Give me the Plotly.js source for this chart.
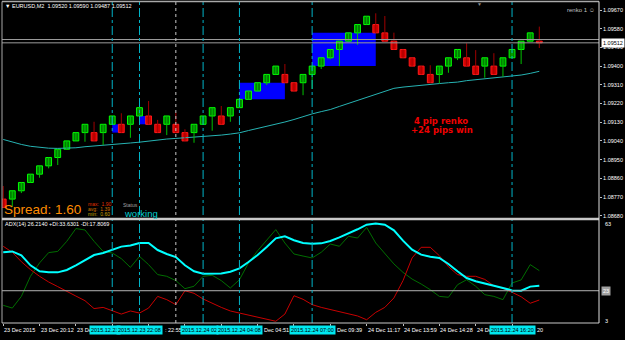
<!DOCTYPE html>
<html>
<head>
<meta charset="utf-8">
<script src="https://cdn.plot.ly/plotly-3.0.1.min.js"></script>
<style>
html,body{margin:0;padding:0;background:#000;}
#chart{width:625px;height:340px;}
</style>
</head>
<body>
<div id="chart"></div>
<script>
// ---------- DATA ----------
const opens = [1.0876,1.0876,1.0880,1.0884,1.0888,1.0892,1.0896,1.0900,1.0904,1.0908,
  1.0908,1.0908,1.0912,1.0912,1.0912,1.0916,1.0916,1.0912,1.0912,1.0912,
  1.0908,1.0908,1.0912,1.0916,1.0916,1.0916,1.0920,1.0924,1.0928,1.0932,
  1.0936,1.0936,1.0932,1.0932,1.0936,1.0940,1.0944,1.0948,1.0952,1.0956,
  1.0960,1.0960,1.0956,1.0952,1.0948,1.0944,1.0940,1.0936,1.0936,1.0940,
  1.0944,1.0944,1.0940,1.0940,1.0940,1.0940,1.0944,1.0948,1.0952,1.09520];
const closes = [1.0872,1.0880,1.0884,1.0888,1.0892,1.0896,1.0900,1.0904,1.0908,1.0912,
  1.0904,1.0912,1.0916,1.0908,1.0916,1.0920,1.0912,1.0908,1.0916,1.0908,
  1.0904,1.0912,1.0916,1.0920,1.0912,1.0920,1.0924,1.0928,1.0932,1.0936,
  1.0940,1.0932,1.0928,1.0936,1.0940,1.0944,1.0948,1.0952,1.0956,1.0960,
  1.0964,1.0956,1.0952,1.0948,1.0944,1.0940,1.0936,1.0932,1.0940,1.0944,
  1.0948,1.0940,1.0936,1.0944,1.0936,1.0944,1.0948,1.0952,1.0956,1.09512];
const highs = [1.08823,1.0880,1.0884,1.0888,1.0892,1.0896,1.0900,1.0904,1.0908,1.0912,
  1.09132,1.0912,1.0916,1.09173,1.0916,1.0920,1.09232,1.09141,1.0916,1.09176,
  1.09096,1.0912,1.0916,1.0920,1.09208,1.0920,1.0924,1.0928,1.0932,1.0936,
  1.0940,1.0941,1.0932,1.0936,1.0940,1.0944,1.0948,1.0952,1.0956,1.0960,
  1.0964,1.09654,1.09641,1.09561,1.0948,1.0944,1.0940,1.09404,1.0940,1.0944,
  1.0948,1.0951,1.09477,1.0944,1.09462,1.0944,1.0948,1.0952,1.0956,1.09590];
const lows = [1.0872,1.08723,1.08789,1.0884,1.08863,1.08908,1.08924,1.0900,1.0904,1.09036,
  1.0904,1.0902,1.0912,1.0908,1.09055,1.09141,1.0912,1.0908,1.09068,1.0908,
  1.0904,1.09031,1.0912,1.09089,1.0912,1.09132,1.0920,1.0924,1.0928,1.09309,
  1.0936,1.0932,1.0928,1.0926,1.0929,1.09386,1.09433,1.0940,1.0952,1.09502,
  1.0960,1.0956,1.0952,1.0948,1.0944,1.0940,1.0936,1.0932,1.09317,1.09368,
  1.09429,1.0940,1.0936,1.09344,1.0936,1.09349,1.0944,1.0941,1.0952,1.09487];
const maValues = [1.09047,1.09034,1.09023,1.09014,1.09009,1.09005,1.09004,1.09004,1.09007,1.09012,
  1.09015,1.09019,1.09022,1.09026,1.09030,1.09034,1.09040,1.09044,1.09049,1.09052,
  1.09055,1.09057,1.09060,1.09064,1.09068,1.09073,1.09079,1.09090,1.09100,1.09109,
  1.09119,1.09131,1.09143,1.09157,1.09170,1.09181,1.09191,1.09206,1.09220,1.09234,
  1.09249,1.09264,1.09278,1.09293,1.09299,1.09304,1.09309,1.09313,1.09316,1.09320,
  1.09323,1.09330,1.09334,1.09338,1.09343,1.09347,1.09350,1.09357,1.09365,1.09375];
const adx = [44.2,44.7,42.4,36.6,33.1,32.5,32.5,33.9,36.6,39.5,
  42.6,43.8,45.5,47.5,48.2,49.6,49.6,45.5,43.2,41.4,
  36.6,33.1,31.7,31.7,31.9,32.9,34.8,38.5,42.6,47.3,
  52.3,53.5,51.2,49.6,49.2,49.4,50.8,52.9,55.2,57.6,
  60.3,60.9,60.3,57.0,51.0,45.7,42.8,41.6,40.9,37.4,
  33.1,29.2,27.3,26.1,24.6,23.4,22.0,21.8,24.2,24.7];
const plusDI = [13.3,11.7,18.5,30.2,38.0,44.0,44.7,50.6,58.0,57.2,
  50.6,44.7,43.8,40.5,35.4,41.8,37.0,31.2,30.2,27.7,
  23.0,24.4,30.2,30.8,27.7,23.4,28.2,38.0,45.1,51.5,
  57.4,49.6,43.2,42.0,40.9,44.2,49.0,47.7,53.5,52.5,
  58.7,49.6,43.2,37.4,32.5,28.6,25.7,22.4,18.5,18.0,
  25.3,28.2,24.4,19.5,18.5,16.6,26.3,28.1,37.0,33.5];
const minusDI = [47.7,44.2,38.7,34.1,30.2,26.9,24.2,21.3,18.7,16.0,
  11.4,12.1,10.2,8.2,10.0,8.8,11.7,18.5,16.6,13.7,
  21.8,20.3,17.0,14.5,12.1,10.0,8.8,7.5,6.5,5.3,
  4.0,8.2,18.9,16.8,13.7,12.1,10.8,9.8,8.2,7.1,
  4.9,9.2,12.1,17.6,27.7,40.9,47.1,47.1,42.2,35.8,
  31.2,30.2,30.2,28.4,24.7,23.2,20.9,18.3,14.5,16.4];
const adxLevel = 21.8;
const bid = 1.09512, ask = 1.09528;
// blue zones: start index, end index, low price, high price
const zoneStart = [12, 15, 26, 34];
const zoneEnd   = [13, 16, 31, 41];
const zoneLow   = [1.0908, 1.0912, 1.0924, 1.0940];
const zoneHigh  = [1.0912, 1.0916, 1.0932, 1.0956];
// vertical time lines and their (visible) time-axis labels
const sepIdx = [12, 15, 22, 26, 34, 56];
const sepLabels = ["2015.12.23","2015.12.23 22:08","2015.12.24 02","2015.12.24 04:08","2015.12.24 07:00","2015.12.24 16:20"];
const sepFull = [false, true, false, true, true, true];
const dotIdx = [19];
const priceTicks = [1.0868,1.0877,1.0886,1.0895,1.0904,1.0913,1.0922,1.0931,1.0940,1.0949,1.0958,1.0967];
// regular time labels (left aligned at candle)
const timeIdx = [0, 4, 8, 40, 44, 48, 52];
const timeLabels = ["23 Dec 2015","23 Dec 20:12","23 De","24 Dec 11:17","24 Dec 13:59","24 Dec 14:28","24 De"];
// label tails visible just right of a cyan box
const tailIdx = [15, 26, 34, 56];
const tailLabels = [": 22:55", "Dec 04:51", "Dec 09:39", "20"];
const allTickIdx = [0,4,8,12,16,20,24,28,32,36,40,44,48,52,56];

// ---------- BUILD ----------
const idx = opens.map((_, i) => i);
const PX = x => (x - 2) / 597;
const PY = y => (323 - y) / 321;

const upX=[], upBase=[], upH=[], dnX=[], dnBase=[], dnH=[];
const wuX=[], wuY=[], wdX=[], wdY=[];
idx.forEach(i => {
  const o = opens[i], c = closes[i];
  if (c >= o) { upX.push(i); upBase.push(o); upH.push(c - o); wuX.push(i, i, null); wuY.push(lows[i], highs[i], null); }
  else { dnX.push(i); dnBase.push(c); dnH.push(o - c); wdX.push(i, i, null); wdY.push(lows[i], highs[i], null); }
});

const traces = [
  {type:'scatter', mode:'lines', x: idx, y: maValues, line:{color:'#27b3b3', width:1}, xaxis:'x', yaxis:'y', hoverinfo:'skip'},
  {type:'scatter', mode:'lines', x: wuX, y: wuY, line:{color:'#00c000', width:1}, connectgaps:false, hoverinfo:'skip'},
  {type:'scatter', mode:'lines', x: wdX, y: wdY, line:{color:'#a00000', width:1}, connectgaps:false, hoverinfo:'skip'},
  {type:'bar', x: upX, y: upH, base: upBase, width: 0.64, marker:{color:'#008000', line:{color:'#00ff00', width:1}}, hoverinfo:'skip'},
  {type:'bar', x: dnX, y: dnH, base: dnBase, width: 0.64, marker:{color:'#d00000', line:{color:'#ff1a1a', width:1}}, hoverinfo:'skip'},
  {type:'scatter', mode:'lines', x: idx, y: plusDI, xaxis:'x', yaxis:'y2', line:{color:'#006e00', width:1}, hoverinfo:'skip'},
  {type:'scatter', mode:'lines', x: idx, y: minusDI, xaxis:'x', yaxis:'y2', line:{color:'#c80000', width:1}, hoverinfo:'skip'},
  {type:'scatter', mode:'lines', x: idx, y: adx, xaxis:'x', yaxis:'y2', line:{color:'#00ffff', width:2}, hoverinfo:'skip'}
];

const shapes = [];
zoneStart.forEach((s, k) => shapes.push({type:'rect', xref:'x', yref:'y', x0:s, x1:zoneEnd[k], y0:zoneLow[k], y1:zoneHigh[k], fillcolor:'#0000ff', line:{width:0}, layer:'below'}));
[bid, ask].forEach(p => shapes.push({type:'line', xref:'paper', yref:'y', x0:0, x1:1, y0:p, y1:p, line:{color:'#9a9a9a', width:1}}));
shapes.push({type:'line', xref:'paper', yref:'y2', x0:0, x1:1, y0:adxLevel, y1:adxLevel, line:{color:'#b4b4b4', width:1}});
sepIdx.forEach(i => shapes.push({type:'line', xref:'x', yref:'paper', x0:i, x1:i, y0:0, y1:1, line:{color:'#00b4c8', width:1, dash:'dashdot'}}));
dotIdx.forEach(i => shapes.push({type:'line', xref:'x', yref:'paper', x0:i, x1:i, y0:0, y1:1, line:{color:'#c8c8c8', width:1, dash:'dot'}}));
// frame
shapes.push({type:'line', xref:'paper', yref:'paper', x0:0, x1:1, y0:PY(1.5), y1:PY(1.5), line:{color:'#a8a8a8', width:1.5}});
shapes.push({type:'line', xref:'paper', yref:'paper', x0:PX(2), x1:PX(2), y0:0, y1:PY(1.5), line:{color:'#a8a8a8', width:1}});
shapes.push({type:'line', xref:'paper', yref:'paper', x0:0, x1:1, y0:PY(219), y1:PY(219), line:{color:'#c8c8c8', width:2.5}});
shapes.push({type:'line', xref:'paper', yref:'paper', x0:0, x1:1, y0:0, y1:0, line:{color:'#c8c8c8', width:1}});
shapes.push({type:'line', xref:'paper', yref:'paper', x0:1, x1:1, y0:0, y1:PY(1.5), line:{color:'#e0e0e0', width:1}});

const F = 'Liberation Sans, Arial, sans-serif';
const small = {family:F, size:5.5, color:'#ffffff'};
const ann = [];
timeIdx.forEach((i, k) => ann.push({xref:'x', yref:'paper', x:i, y:PY(330), xanchor:'left', yanchor:'middle', text:timeLabels[k], showarrow:false, xshift:-1, font:small}));
tailIdx.forEach((i, k) => ann.push({xref:'x', yref:'paper', x:i, y:PY(330), xanchor:'left', yanchor:'middle', text:tailLabels[k], showarrow:false, xshift:23, font:small}));
sepIdx.forEach((i, k) => ann.push(sepFull[k]
  ? {xref:'x', yref:'paper', x:i, y:PY(330), xanchor:'center', yanchor:'middle', text:sepLabels[k], showarrow:false, bgcolor:'#00e8f0', borderpad:1, font:{family:F, size:5.5, color:'#000000'}}
  : {xref:'x', yref:'paper', x:i, y:PY(330), xanchor:'left', yanchor:'middle', xshift:-23, text:sepLabels[k], showarrow:false, bgcolor:'#00e8f0', borderpad:1, font:{family:F, size:5.5, color:'#000000'}}));
ann.push({xref:'paper', yref:'y', x:PX(601), y:bid, xanchor:'left', yanchor:'middle', text:bid.toFixed(5), showarrow:false, bgcolor:'#ffffff', borderpad:1, font:{family:F, size:5.5, color:'#000000'}});
ann.push({xref:'paper', yref:'paper', x:PX(603), y:PY(224), xanchor:'left', yanchor:'middle', text:'63', showarrow:false, font:small});
ann.push({xref:'paper', yref:'paper', x:PX(603), y:PY(321), xanchor:'left', yanchor:'middle', text:'3', showarrow:false, font:small});
ann.push({xref:'paper', yref:'y2', x:PX(601), y:adxLevel, xanchor:'left', yanchor:'middle', text:'23', showarrow:false, bgcolor:'#a0a0a0', borderpad:1, font:{family:F, size:5.5, color:'#ffffff'}});
ann.push({xref:'paper', yref:'paper', x:PX(3), y:PY(6), xanchor:'left', yanchor:'middle', text:'▼ EURUSD,M2  1.09520 1.09590 1.09487 1.09512', showarrow:false, font:small});
ann.push({xref:'paper', yref:'paper', x:PX(597), y:PY(10), xanchor:'right', yanchor:'middle', text:'renko 1 ☺', showarrow:false, font:{family:F, size:6, color:'#c0c0c0'}});
ann.push({xref:'paper', yref:'paper', x:PX(479), y:PY(4), xanchor:'center', yanchor:'middle', text:'▼', showarrow:false, font:{family:F, size:5, color:'#8a8a8a'}});
ann.push({xref:'paper', yref:'paper', x:PX(3), y:PY(224), xanchor:'left', yanchor:'middle', text:'ADX(14) 26.2140 +DI:33.6301 -DI:17.8069', showarrow:false, font:small});
ann.push({xref:'paper', yref:'paper', x:PX(2), y:PY(209), xanchor:'left', yanchor:'middle', text:'Spread: 1.60', showarrow:false, font:{family:F, size:13.5, color:'#ff8c00'}});
ann.push({xref:'paper', yref:'paper', x:PX(86), y:PY(204), xanchor:'left', yanchor:'middle', text:'max:  1.90', showarrow:false, font:{family:F, size:5, color:'#e03000'}});
ann.push({xref:'paper', yref:'paper', x:PX(86), y:PY(209), xanchor:'left', yanchor:'middle', text:'avg:  1.39', showarrow:false, font:{family:F, size:5, color:'#d07000'}});
ann.push({xref:'paper', yref:'paper', x:PX(86), y:PY(214), xanchor:'left', yanchor:'middle', text:'min:  0.60', showarrow:false, font:{family:F, size:5, color:'#c8a000'}});
ann.push({xref:'paper', yref:'paper', x:PX(121), y:PY(205), xanchor:'left', yanchor:'middle', text:'Status', showarrow:false, font:{family:F, size:5, color:'#a0a0a0'}});
ann.push({xref:'paper', yref:'paper', x:PX(122), y:PY(213), xanchor:'left', yanchor:'middle', text:'working', showarrow:false, font:{family:F, size:9.5, color:'#00ced1'}});
ann.push({xref:'paper', yref:'paper', x:PX(441), y:PY(121), xanchor:'center', yanchor:'middle', text:'<b>4 pip renko</b>', showarrow:false, font:{family:'DejaVu Sans, sans-serif', size:8.5, color:'#ee0000'}});
ann.push({xref:'paper', yref:'paper', x:PX(442), y:PY(130), xanchor:'center', yanchor:'middle', text:'<b>+24 pips win</b>', showarrow:false, font:{family:'DejaVu Sans, sans-serif', size:8.5, color:'#ee0000'}});

const layout = {
  width:625, height:340,
  margin:{l:2, r:26, t:2, b:17, pad:0},
  paper_bgcolor:'#000000', plot_bgcolor:'#000000',
  showlegend:false, barmode:'overlay', bargap:0,
  xaxis:{range:[-0.132, 65.57], anchor:'y2', showgrid:false, zeroline:false, showline:false,
    tickmode:'array', tickvals:allTickIdx, ticks:'outside', ticklen:2, tickcolor:'#c0c0c0', showticklabels:false, fixedrange:true},
  yaxis:{domain:[(323-218)/321, 1], range:[1.08669, 1.097085], side:'right', showgrid:false, zeroline:false, showline:false,
    tickmode:'array', tickvals:priceTicks, ticktext:priceTicks.map(v => v.toFixed(5)), ticks:'outside', ticklen:2, tickcolor:'#c0c0c0',
    tickfont:{family:F, size:5.5, color:'#ffffff'}, fixedrange:true},
  yaxis2:{domain:[0, (323-220.5)/321], range:[3, 62.71], side:'right', showgrid:false, zeroline:false, showline:false,
    showticklabels:false, ticks:'', fixedrange:true},
  shapes: shapes,
  annotations: ann
};

Plotly.newPlot('chart', traces, layout, {staticPlot:true, displayModeBar:false});
</script>
</body>
</html>
